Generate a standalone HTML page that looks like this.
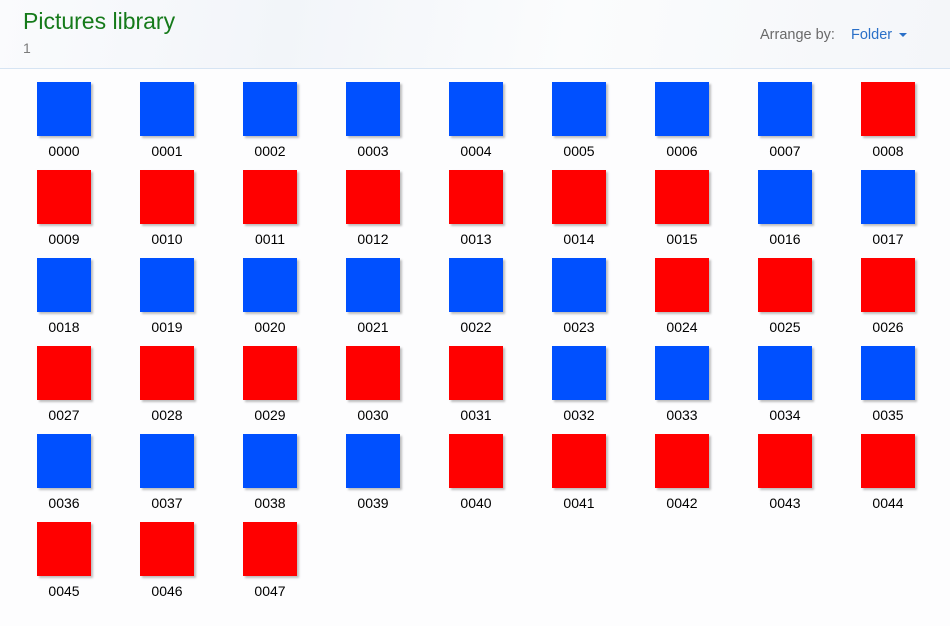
<!DOCTYPE html>
<html><head><style>
body{margin:0;width:950px;height:626px;background:#fdfdfe;font-family:"Liberation Sans",sans-serif;position:relative;overflow:hidden}
.hdr{position:absolute;left:0;top:0;width:950px;height:68px;background:linear-gradient(100deg,#fafbfd 0%,#f2f5f9 30%,#fbfcfd 60%,#f4f6f9 100%);border-bottom:1px solid #d6e4f3}
.t{position:absolute;left:23px;top:8px;font-size:23px;color:#157a1a}
.s{position:absolute;left:23px;top:40px;font-size:14px;color:#7b7b7b}
.a{position:absolute;left:760px;top:27px;font-size:14.5px;color:#6a6a6a}
.f{position:absolute;left:851px;top:27px;font-size:14.5px;color:#2a70c8}
.tri{position:absolute;left:899px;top:33px;width:0;height:0;border-left:4px solid transparent;border-right:4px solid transparent;border-top:4px solid #2a70c8}
.c{position:absolute;width:54px;height:54px;box-shadow:2px 2px 2px rgba(0,0,0,.25)}
.l{position:absolute;width:80px;text-align:center;font-size:14px;color:#000}
</style></head><body>
<div class="hdr"></div>
<div class="t">Pictures library</div>
<div class="s">1</div>
<div class="a">Arrange by:</div>
<div class="f">Folder</div>
<div class="tri"></div>
<div id="g"></div>
<script>
var h='';
for(var i=0;i<48;i++){var r=Math.floor(i/9),c=i%9,x=37+c*103,y=82+r*88;
var col=(Math.floor(i/8)%2==0)?'#0050ff':'#ff0000';
var n=('000'+i).slice(-4);
h+='<div class="c" style="left:'+x+'px;top:'+y+'px;background:'+col+'"></div><div class="l" style="left:'+(x-13)+'px;top:'+(y+61)+'px">'+n+'</div>';}
document.getElementById('g').innerHTML=h;
</script>
</body></html>
